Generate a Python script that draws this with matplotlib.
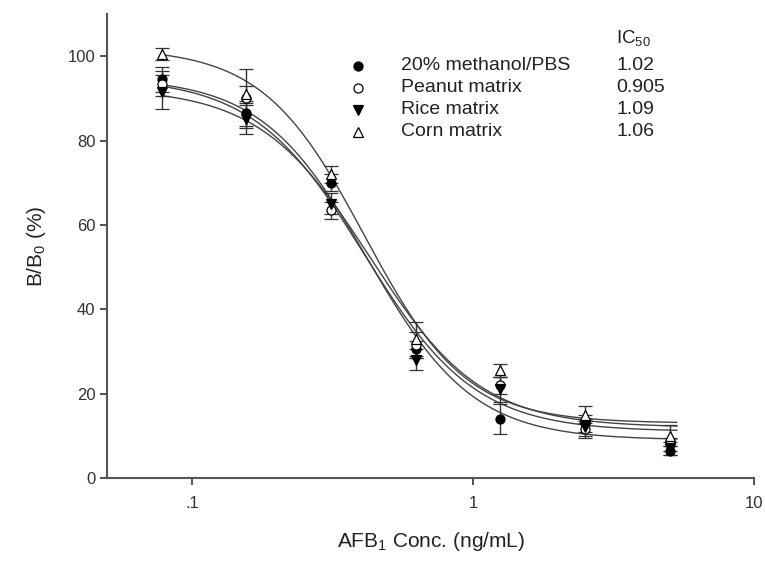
import numpy as np
import matplotlib
matplotlib.use('Agg')
import matplotlib.pyplot as plt

plt.rcParams['font.family'] = ['Liberation Sans', 'DejaVu Sans']
plt.rcParams['mathtext.default'] = 'regular'

# data
conc = [0.078, 0.156, 0.3125, 0.625, 1.25, 2.5, 5.0]
names = ['20% methanol/PBS', 'Peanut matrix', 'Rice matrix', 'Corn matrix']
ic50 = ['1.02', '0.905', '1.09', '1.06']

methanol = [94.5, 86.5, 70.0, 30.5, 14.0, 13.0, 6.5]
methanol_err = [3.0, 3.0, 2.0, 2.0, 3.5, 2.0, 1.0]
peanut = [93.5, 90.0, 63.5, 31.5, 22.0, 11.5, 8.0]
peanut_err = [3.0, 7.0, 2.0, 3.0, 2.0, 2.0, 1.5]
rice = [91.5, 85.0, 65.0, 28.0, 21.0, 12.0, 7.0]
rice_err = [4.0, 3.5, 2.5, 2.5, 3.0, 2.0, 1.5]
corn = [100.5, 91.0, 72.0, 33.0, 25.5, 15.0, 10.0]
corn_err = [1.5, 2.0, 2.0, 4.0, 1.5, 2.0, 2.5]

# 4-parameter logistic fit parameters (top, bottom, x0, slope) per series
fit_top = [95.0, 95.0, 92.5, 102.0]
fit_bottom = [9.0, 11.0, 12.0, 13.0]
fit_x0 = [0.42, 0.41, 0.43, 0.41]
fit_slope = [2.3, 2.2, 2.2, 2.4]

series = [methanol, peanut, rice, corn]
errs = [methanol_err, peanut_err, rice_err, corn_err]
markers = ['o', 'o', 'v', '^']
faces = ['black', 'white', 'black', 'white']

W, H = 765, 562
fig = plt.figure(figsize=(W / 100, H / 100), dpi=100)
ax = fig.add_axes([0.140, 0.1495, 0.846, 0.8255])

xs = np.logspace(np.log10(0.078), np.log10(5.3), 300)
for i in range(4):
    yfit = fit_bottom[i] + (fit_top[i] - fit_bottom[i]) / (1 + (xs / fit_x0[i]) ** fit_slope[i])
    ax.plot(xs, yfit, color='#444444', lw=1.0, zorder=2)

for i in range(4):
    ax.errorbar(conc, series[i], yerr=errs[i], fmt=markers[i], ms=6.5,
                mfc=faces[i], mec='black', mew=0.9, ecolor='#333333',
                elinewidth=1.0, capsize=5, capthick=1.0, zorder=3)

ax.set_xscale('log')
ax.set_xlim(0.0498, 10)
ax.set_ylim(0, 110)
ax.set_xticks([0.1, 1, 10])
ax.set_xticklabels(['.1', '1', '10'])
ax.xaxis.set_minor_locator(matplotlib.ticker.NullLocator())
ax.set_yticks([0, 20, 40, 60, 80, 100])
ax.tick_params(axis='both', labelsize=12, colors='#333333', length=5, width=1.2)
ax.tick_params(axis='x', pad=8)

for s in ['top', 'right']:
    ax.spines[s].set_visible(False)
for s in ['left', 'bottom']:
    ax.spines[s].set_color('#555555')
    ax.spines[s].set_linewidth(1.5)

ax.set_xlabel('AFB$_1$ Conc. (ng/mL)', fontsize=15, color='#222222', labelpad=14)
ax.set_ylabel('B/B$_0$ (%)', fontsize=15, color='#222222', labelpad=14)

# legend as figure text (pixel positions from top-left)
row_y = [66, 88, 110, 132]
fig.text(616 / W, 1 - 38 / H, 'IC$_{50}$', fontsize=13.5, color='#222222', va='center', ha='left')
for i in range(4):
    fig.lines.append(plt.Line2D([358 / W], [1 - row_y[i] / H], marker=markers[i],
                                ms=6.5, mfc=faces[i], mec='black', mew=0.9,
                                linestyle='none', transform=fig.transFigure))
    fig.text(401 / W, 1 - row_y[i] / H, names[i], fontsize=14, color='#222222', va='center', ha='left')
    fig.text(616 / W, 1 - row_y[i] / H, ic50[i], fontsize=14, color='#222222', va='center', ha='left')

fig.savefig('out.png', dpi=100)
